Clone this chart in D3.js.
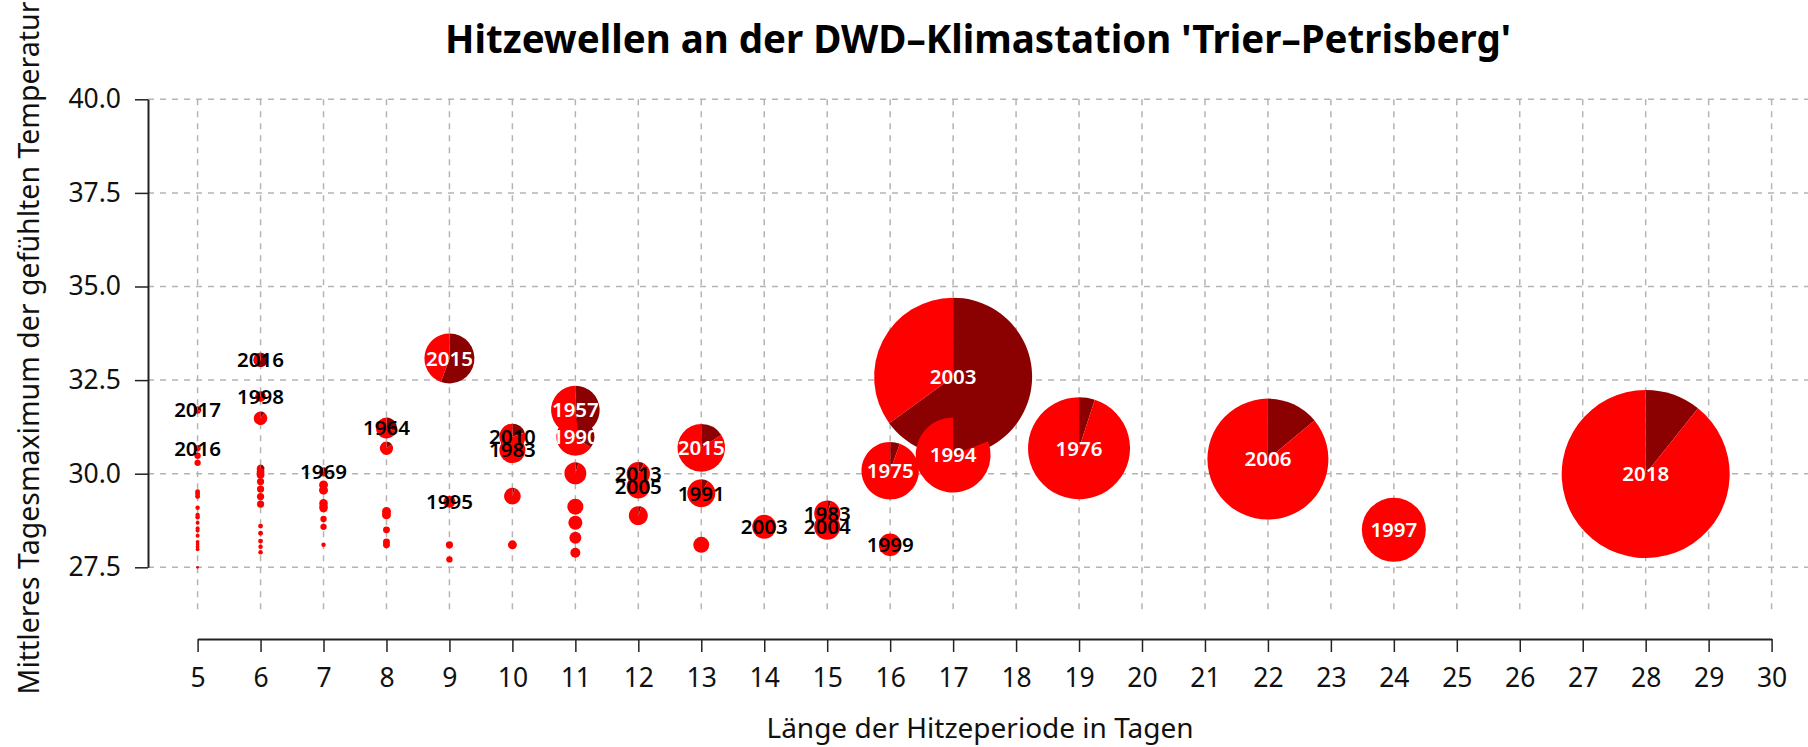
<!DOCTYPE html>
<html>
<head>
<meta charset="utf-8">
<script src="https://cdn.jsdelivr.net/npm/d3@7"></script>
<style>
  body { margin: 0; background: #fff; }
  text { font-family: "Noto Sans", "Open Sans", sans-serif; }
</style>
</head>
<body>
<div id="chart"></div>
<script>
// Hitzewellen Trier-Petrisberg: one pie per heat wave
// x = length in days, y = mean daily max of felt temperature,
// size = heat index, dark share = part of very hot days
var days = [
  5,5,5,5,5,5,5,5,5,5,5,5,5,5,5,5,5,5,5,
  6,6,6,6,6,6,6,6,6,6,6,6,6,6,6,
  7,7,7,7,7,7,7,7,7,
  8,8,8,8,8,8,8,
  9,9,9,9,
  10,10,10,10,
  11,11,11,11,11,11,11,
  12,12,12,
  13,13,13,
  14,
  15,15,
  16,16,
  17,17,
  19,
  22,
  24,
  28
];
var temps = [
  31.70,30.68,30.48,30.29,29.52,29.46,29.39,29.09,28.90,28.84,28.69,28.54,28.48,28.34,28.18,28.12,28.05,27.98,27.50,
  33.04,32.06,31.48,30.14,30.05,29.97,29.79,29.59,29.39,29.19,28.60,28.41,28.20,28.05,27.90,
  30.05,29.70,29.56,29.21,29.12,29.08,28.79,28.58,28.10,
  31.22,30.68,28.99,28.90,28.50,28.18,28.10,
  33.08,29.25,28.10,27.71,
  30.99,30.63,29.40,28.10,
  30.99,31.70,30.01,29.12,28.69,28.29,27.89,
  30.00,29.65,28.88,
  30.69,29.48,28.10,
  28.58,
  28.94,28.58,
  30.08,28.10,
  32.59,30.50,
  30.68,
  30.39,
  28.50,
  29.99
];
var sizes = [
  1.4,1.0,1.0,1.0,0.6,0.6,0.6,0.5,0.5,0.5,0.4,0.4,0.4,0.4,0.35,0.35,0.35,0.35,0.2,
  5.2,2.8,4.6,1.5,1.5,1.5,1.3,1.3,1.3,1.3,0.6,0.6,0.6,0.5,0.5,
  2.0,2.0,2.0,1.8,1.8,1.6,1.0,1.0,0.5,
  11.0,4.4,2.0,2.0,1.2,1.2,1.2,
  62.5,3.6,1.3,1.0,
  16.9,16.9,6.9,2.0,
  36.1,59.0,12.1,6.4,4.9,3.6,2.5,
  13.7,13.7,9.0,
  56.6,19.6,6.4,
  14.4,
  16.9,16.9,
  82.4,12.8,
  624.1,140.6,
  260.1,
  366.0,
  102.4,
  705.6
];
var darkShares = [
  0.3,0.2,0,0,0,0,0,0,0,0,0,0,0,0,0,0,0,0,0,
  0.6,0.1,0.1,0.4,0,0,0,0,0,0,0,0,0,0,0,
  0.2,0,0,0,0,0,0,0,0,
  0.3,0.15,0,0,0,0,0,
  0.555,0,0,0,
  0.2,0,0.05,0,
  0.35,0.48,0.05,0,0,0,0,
  0.08,0,0.05,
  0.16,0.08,0,
  0,
  0.05,0,
  0.055,0,
  0.65,0.19,
  0.05,
  0.14,
  0,
  0.107
];
var labels = [
  "2017","2016","","","","","","","","","","","","","","","","","",
  "2016","1998","","","","","","","","","","","","","",
  "1969","","","","","","","","",
  "1964","","","","","","",
  "2015","1995","","",
  "2010","1983","","",
  "1990","1957","","","","","",
  "2013","2005","",
  "2015","1991","",
  "2003",
  "1983","2004",
  "1975","1999",
  "2003","1994",
  "1976",
  "2006",
  "1997",
  "2018"
];
var xTicks = d3.range(5, 31);
var yTicks = [27.5, 30.0, 32.5, 35.0, 37.5, 40.0];

var width = 1808;
var height = 747;

var x = d3.scaleLinear().domain([5, 30]).range([197.6, 1771.6]);
var y = d3.scaleLinear().domain([27.5, 40]).range([567.3, 99.3]);
var r = d3.scaleSqrt().domain([0, 1000]).range([0, 100]);

var svg = d3.select("#chart").append("svg")
  .attr("width", width)
  .attr("height", height);

svg.append("rect").attr("width", width).attr("height", height).attr("fill", "#fff");

// grid
var grid = svg.append("g").attr("class", "grid")
  .attr("stroke", "#b4b4b4")
  .attr("stroke-width", 1.5)
  .attr("stroke-dasharray", "6,6");
grid.selectAll("line.h").data(yTicks).enter().append("line")
  .attr("class", "h")
  .attr("x1", 148).attr("x2", width)
  .attr("y1", d => y(d)).attr("y2", d => y(d));
grid.selectAll("line.v").data(xTicks).enter().append("line")
  .attr("class", "v")
  .attr("x1", d => x(d)).attr("x2", d => x(d))
  .attr("y1", y(40)).attr("y2", 612);

// axes
var yAxis = svg.append("g")
  .attr("transform", "translate(148,0)")
  .call(d3.axisLeft(y).tickValues(yTicks).tickFormat(d3.format(".1f"))
    .tickSize(13).tickSizeOuter(0).tickPadding(14));
var xAxis = svg.append("g")
  .attr("transform", "translate(0,639)")
  .call(d3.axisBottom(x).tickValues(xTicks).tickFormat(d3.format("d"))
    .tickSize(13).tickSizeOuter(0).tickPadding(16));
[yAxis, xAxis].forEach(function(a) {
  a.select(".domain").attr("stroke", "#222").attr("stroke-width", 2);
  a.selectAll(".tick line").attr("stroke", "#222").attr("stroke-width", 1.5);
  a.selectAll(".tick text").attr("font-size", 26.5).attr("fill", "#111")
    .style("font-family", "'Noto Sans', sans-serif");
});

// pies
var points = days.map(function(d, i) {
  return {day: d, temp: temps[i], size: sizes[i], dark: darkShares[i], label: labels[i]};
});
var pie = d3.pie().sort(null).value(d => d);
var arc = d3.arc().innerRadius(0);

var pies = svg.append("g").attr("class", "pies")
  .selectAll("g")
  .data(points)
  .enter().append("g")
  .attr("transform", d => `translate(${x(d.day)},${y(d.temp)})`);

pies.each(function(d) {
  var g = d3.select(this);
  var rad = r(d.size);
  g.selectAll("path")
    .data(pie([d.dark, 1 - d.dark]))
    .enter().append("path")
    .attr("d", s => arc.outerRadius(rad)(s))
    .attr("fill", (s, i) => i == 0 ? "#8b0000" : "#ff0000");
});

svg.append("g").attr("class", "labels")
  .selectAll("text")
  .data(points.filter(d => d.label != ""))
  .enter().append("text")
  .attr("x", d => x(d.day))
  .attr("y", d => y(d.temp))
  .attr("dy", "0.36em")
  .attr("text-anchor", "middle")
  .attr("font-size", 20.5)
  .attr("font-weight", 600)
  .attr("fill", d => r(d.size) >= 18 ? "#fff" : "#000")
  .text(d => d.label);

// titles
var title = svg.append("text")
  .attr("x", 978)
  .attr("y", 53)
  .attr("text-anchor", "middle")
  .attr("font-size", 40)
  .attr("font-weight", "bold")
  .text("Hitzewellen an der DWD\u2013Klimastation 'Trier\u2013Petrisberg'");
title.attr("textLength", 1066).attr("lengthAdjust", "spacingAndGlyphs");

svg.append("text")
  .attr("x", 980)
  .attr("y", 738)
  .attr("text-anchor", "middle")
  .attr("font-size", 28)
  .attr("fill", "#111")
  .text("Länge der Hitzeperiode in Tagen");

svg.append("text")
  .attr("transform", "translate(39,348) rotate(-90)")
  .attr("text-anchor", "middle")
  .attr("font-size", 28.5)
  .attr("fill", "#111")
  .text("Mittleres Tagesmaximum der gefühlten Temperatur");
</script>
</body>
</html>
